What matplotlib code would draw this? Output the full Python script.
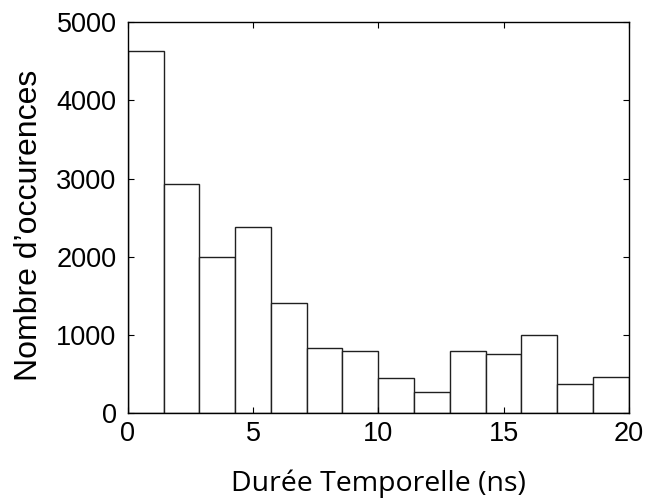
#Histogramme des durees temporelles
import matplotlib.pyplot as plt
import numpy as np

#Bornes des classes (14 classes entre 0 et 20 ns)
bin_edges = np.linspace(0, 20, 15)
#Nombre d'occurrences par classe
counts = [4640, 2930, 1995, 2380, 1405, 830, 790, 445, 265, 790, 752, 990, 365, 460]

fig = plt.figure(figsize=(6.45, 4.99), dpi=100)
ax = fig.add_axes([0.198, 0.173, 0.777, 0.782])

#Tracer les barres de l'histogramme
ax.hist(bin_edges[:-1], bins=bin_edges, weights=counts,
        facecolor='white', edgecolor='#202020', linewidth=1.0)

#Mise en forme
ax.set_xlim(0, 20)
ax.set_ylim(0, 5000)
ax.set_xticks([0, 5, 10, 15, 20])
ax.set_yticks([0, 1000, 2000, 3000, 4000, 5000])
ax.tick_params(direction='in', top=True, right=True, length=4,
               labelsize=19.5)
ax.tick_params(axis='x', pad=6)
ax.tick_params(axis='y', pad=8)
for lab in ax.get_xticklabels() + ax.get_yticklabels():
    lab.set_family('Liberation Sans')
for s in ax.spines.values():
    s.set_linewidth(1.0)

ax.set_xlabel('Durée Temporelle (ns)', fontsize=20.5, family='Open Sans', labelpad=16)
ax.set_ylabel("Nombre d\u2019occurences", fontsize=23, family='Liberation Sans')
ax.yaxis.set_label_coords(-0.168, 0.48)

fig.savefig('out.png', dpi=100)
